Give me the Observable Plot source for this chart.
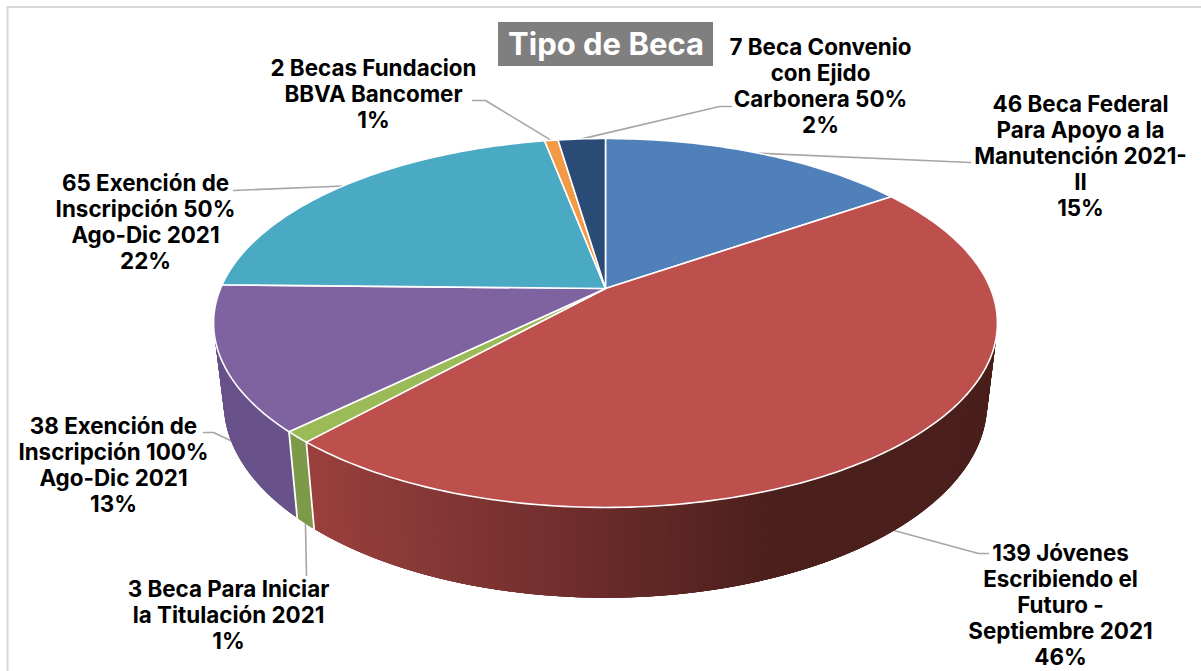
<!DOCTYPE html>
<html><head><meta charset="utf-8">
<style>html,body{margin:0;padding:0;background:#fff;overflow:hidden}svg{display:block}</style>
<script src="https://cdn.jsdelivr.net/npm/d3@7"></script>
<script src="https://cdn.jsdelivr.net/npm/@observablehq/plot@0.6"></script>
</head><body><div id="chart"></div>
<script>
// data
const categories = ["Beca Federal Para Apoyo a la Manutención 2021-II","Jóvenes Escribiendo el Futuro - Septiembre 2021","Beca Para Iniciar la Titulación 2021","Exención de Inscripción 100% Ago-Dic 2021","Exención de Inscripción 50% Ago-Dic 2021","Becas Fundacion BBVA Bancomer","Beca Convenio con Ejido Carbonera 50%"];
const counts = [46,139,3,38,65,2,7];
const labels = [
 "46 Beca Federal\nPara Apoyo a la\nManutención 2021-\nII\n15%",
 "139 Jóvenes\nEscribiendo el\nFuturo -\nSeptiembre 2021\n46%",
 "3 Beca Para Iniciar\nla Titulación 2021\n1%",
 "38 Exención de\nInscripción 100%\nAgo-Dic 2021\n13%",
 "65 Exención de\nInscripción 50%\nAgo-Dic 2021\n22%",
 "2 Becas Fundacion\nBBVA Bancomer\n1%",
 "7 Beca Convenio\ncon Ejido\nCarbonera 50%\n2%"];
const title = "Tipo de Beca";

// styles and layout
const topColors = ["#4f80ba","#bd4f4c","#9bbb59","#7f62a0","#4aa9c3","#f39a46","#2a4b75"];
const wallColors = [null,null,"#7c9a47","#69528a",null,null,null];
const FONT = "Inter, sans-serif";
const labelPos = [[1080,104],[1060,553],[228,589],[113,426],[145,183],[373,68],[820,47]];
const leaderElbows = [[[970,162]],[[978,553],[988,553]],[[306,575]],[[213,432],[203,432]],[[233,190]],[[485,100],[472,100]],[[719,106],[731,106]]];
const leaderOnWall = [false,true,true,true,false,false,false];

// 3D projection of the disc
const K = 0.187;
const top3d = {cx:605,cy:288,a:178,b:385};
const low3d = {cx:605,cy:366,a:188,b:375};
function project(p, turn){
  const t = turn*2*Math.PI, X = Math.sin(t), Y = -Math.cos(t), d = 1-K*Y;
  return {x:p.cx+p.b*X/d, y:p.cy+p.a*Y/d};
}
const total = d3.sum(counts);
const cum = d3.cumsum(counts);
const starts = counts.map((c,i)=>(cum[i]-c)/total), ends = counts.map((c,i)=>cum[i]/total);
const mids = starts.map((s,i)=>(s+ends[i])/2);

// top face slices
const topPts = [];
counts.forEach((c,i)=>{
  topPts.push({id:i,x:top3d.cx,y:top3d.cy,c:topColors[i]});
  const n = Math.max(2,Math.ceil((ends[i]-starts[i])*360));
  d3.range(n+1).forEach(j=>{
    const t = starts[i]+(ends[i]-starts[i])*j/n;
    topPts.push({id:i,...project(top3d,t),c:topColors[i]});
  });
});

// side wall: overlapping quads, painted in order, with horizontal shading
const redShade = d3.scaleLinear().domain([313,400,600,780]).range(["#9a3f3c","#8a3a38","#6a2b2a","#4a1f1c"]).clamp(true);
const wallPts = [];
const step = 1/720;
d3.range(0.12,0.88,step).forEach((t0,q)=>{
  const t1 = t0+step*4, tm=t0+step/2;
  const i = ends.findIndex(e=>tm<e);
  const mx = project(top3d,tm).x;
  const c = wallColors[i] || (i===1 ? redShade(mx) : topColors[i]);
  const id = "w"+q;
  [project(top3d,t0),project(top3d,t1),project(low3d,t1),project(low3d,t0)].forEach(p=>wallPts.push({id,...p,c}));
});
// wall separators between visible slices
const sepPts = [];
[ends[1],ends[2]].forEach((t,i)=>{
  sepPts.push({id:i,...project(top3d,t)},{id:i,...project(low3d,t)});
});
// leaders
const leaderPts = [];
counts.forEach((c,i)=>{
  leaderPts.push({id:i,...project(leaderOnWall[i]?low3d:top3d,mids[i])});
  leaderElbows[i].forEach(([x,y])=>leaderPts.push({id:i,x,y}));
});
const labelRows = [];
labels.forEach((s,i)=>s.split("\n").forEach((t,j)=>labelRows.push({t,x:labelPos[i][0],y:labelPos[i][1]+j*26})));

const frame = [{id:0,x:7,y:671},{id:0,x:7,y:6.5},{id:0,x:1201,y:6.5}];

const chart = Plot.plot({
  width:1201,height:671,margin:0,
  x:{domain:[0,1201],range:[0,1201],axis:null},
  y:{domain:[0,671],range:[0,671],axis:null},
  style:{background:"#fff"},
  marks:[
    Plot.line(frame,{x:"x",y:"y",z:"id",stroke:"#d9d9d9",strokeWidth:2}),
    Plot.line(leaderPts,{x:"x",y:"y",z:"id",stroke:"#a6a6a6",strokeWidth:1.6}),
    Plot.line(wallPts,{x:"x",y:"y",z:"id",fill:"c",stroke:"none",curve:"linear-closed"}),
    Plot.line(sepPts,{x:"x",y:"y",z:"id",stroke:"#fff",strokeWidth:1.8}),
    Plot.line(topPts,{x:"x",y:"y",z:"id",fill:"c",stroke:"#fff",strokeWidth:1.6,strokeLinejoin:"round",curve:"linear-closed"}),
    Plot.rect([{x1:498,x2:713,y1:22,y2:66}],{x1:"x1",x2:"x2",y1:"y1",y2:"y2",fill:"#7f7f7f"}),
    Plot.text([title],{x:()=>605.5,y:()=>45,text:d=>d,fill:"#fff",fontSize:31,fontWeight:700,fontFamily:FONT,textAnchor:"middle"}),
    Plot.text(labelRows,{x:"x",y:"y",text:"t",fill:"#000",fontSize:22.4,fontWeight:700,fontFamily:FONT,textAnchor:"middle"})
  ]
});
document.getElementById("chart").append(chart);
</script></body></html>
